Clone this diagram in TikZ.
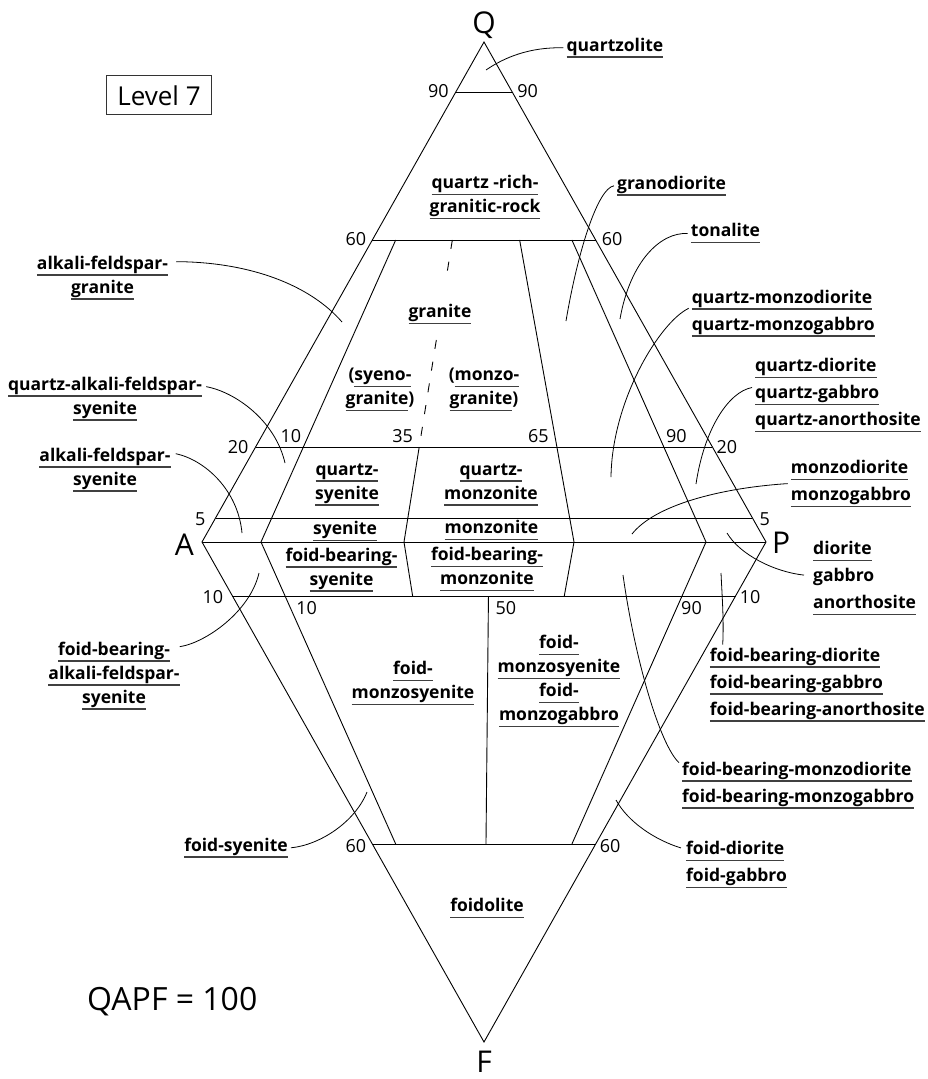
\documentclass[tikz,border=0pt]{standalone}
\usepackage{fontspec}
\setmainfont{Open Sans}
\usepackage{tikz}
\usetikzlibrary{calc}
\usetikzlibrary{positioning}
\tikzstyle{bline}=[line width=0.9pt]
\tikzstyle{lead}=[line width=0.8pt]
\tikzstyle{rock}=[font=\fontsize{17.5}{24}\selectfont\bfseries,align=center,inner sep=3pt]
\tikzstyle{rockr}=[rock,align=left,font=\fontsize{17.5}{27}\selectfont\bfseries]
\tikzstyle{num}=[font=\fontsize{18}{20}\selectfont,inner sep=0pt]
\tikzstyle{apex}=[font=\fontsize{30}{36}\selectfont,inner sep=0pt]
\newcommand{\undl}[1]{\setbox0=\hbox{#1}\rlap{\color{black!75}\rule[-6.5pt]{\wd0}{1.4pt}}\box0}
\begin{document}
\begin{tikzpicture}[x=1pt,y=1pt,yscale=-1]
\useasboundingbox (0,0) rectangle (928,1079);
\coordinate (Q) at (484,42);
\coordinate (A) at (202,542);
\coordinate (P) at (766,542);
\coordinate (F) at (484,1042);
\coordinate (b10) at (261,542);
\coordinate (b35) at (404,542);
\coordinate (b50) at (489,542);
\coordinate (b65) at (574,542);
\coordinate (b90) at (706,542);
% outline and fields
\draw[bline] (Q) -- (A) -- (F) -- (P) -- cycle;
\draw[bline] (A) -- (P);
\foreach \f/\n in {0.9/90,0.604/60,0.19/20,0.048/5}
  \draw[bline] ($(A)!\f!(Q)$) coordinate (h\n-a) -- ($(P)!\f!(Q)$) coordinate (h\n-p);
\foreach \f/\n in {0.108/10,0.604/60}
  \draw[bline] ($(A)!\f!(F)$) coordinate (g\n-a) -- ($(P)!\f!(F)$) coordinate (g\n-p);
\foreach \b in {b10,b90}
  \draw[bline] ($(Q)!0.396!(\b)$) -- (\b) -- ($(\b)!0.604!(F)$);
\draw[bline] ($(Q)!0.396!(b65)$) -- (b65) -- ($(b65)!0.108!(F)$);
\draw[bline] ($(Q)!0.81!(b35)$) -- (b35) -- ($(b35)!0.108!(F)$);
\draw[bline,dash pattern=on 9pt off 13pt] ($(Q)!0.396!(b35)$) -- ($(Q)!0.47!(b35)$)
  ($(Q)!0.596!(b35)$) -- ($(Q)!0.81!(b35)$);
\draw[bline] ($(b50)!0.108!(F)$) -- ($(b50)!0.604!(F)$);
% corners
\node[apex,anchor=base] (nQ) at ($(Q)+(0,-9)$) {Q};
\node[apex,anchor=base east] (nA) at ($(A)+(-8,13)$) {A};
\node[apex,anchor=base west] (nP) at ($(P)+(6,11)$) {P};
\node[apex,anchor=base] (nF) at ($(F)+(0,30)$) {F};
% percentages
\node[num,anchor=east] (n90l) at ($(h90-a)+(-7,-1)$) {90};
\node[num,anchor=west] (n90r) at ($(h90-p)+(5,-1)$) {90};
\node[num,anchor=east] (n60l) at ($(h60-a)+(-6,-1)$) {60};
\node[num,anchor=west] (n60r) at ($(h60-p)+(6,-1)$) {60};
\node[num,anchor=east] (n20l) at ($(h20-a)+(-7,0)$) {20};
\node[num,anchor=west] (n20r) at ($(h20-p)+(4,0)$) {20};
\node[num,anchor=east] (n5l) at ($(h5-a)+(-10,1)$) {5};
\node[num,anchor=west] (n5r) at ($(h5-p)+(7,1)$) {5};
\node[num,anchor=south east] (n10t) at ($(Q)!0.81!(b10)+(-2,-4)$) {10};
\node[num,anchor=south east] (n35) at ($(Q)!0.81!(b35)+(-6,-4)$) {35};
\node[num,anchor=south east] (n65) at ($(Q)!0.81!(b65)+(-8,-4)$) {65};
\node[num,anchor=south west] (n90t) at ($(Q)!0.81!(b90)+(2,-4)$) {90};
\node[num,anchor=east] (n10l) at ($(g10-a)+(-9,1)$) {10};
\node[num,anchor=west] (n10r) at ($(g10-p)+(4,1)$) {10};
\node[num,anchor=north west] (n10b) at ($(b10)!0.108!(F)+(11,5)$) {10};
\node[num,anchor=north west] (n50) at ($(b50)!0.108!(F)+(7,5)$) {50};
\node[num,anchor=north west] (n90b) at ($(b90)!0.108!(F)+(-1,5)$) {90};
\node[num,anchor=east] (n60bl) at ($(g60-a)+(-6,2)$) {60};
\node[num,anchor=west] (n60br) at ($(g60-p)+(4,2)$) {60};
% fields inside
\node[rock] (qzl) at (615,47.8) {\undl{quartzolite}};
\node[rock] (qrg) at (485,197.1) {\undl{quartz -rich-}\\\undl{granitic-rock}};
\node[rock] (gra) at (440,314.5) {\undl{granite}};
\node[rock] (syg) at (380,389.8) {(\undl{syeno-}\\\undl{granite})};
\node[rock] (mzg) at (484,389.8) {(\undl{monzo-}\\\undl{granite})};
\node[rock] (qsy) at (347,484.5) {\undl{quartz-}\\\undl{syenite}};
\node[rock] (qmz) at (491,484.8) {\undl{quartz-}\\\undl{monzonite}};
\node[rock] (sye) at (345,531.1) {\undl{syenite}};
\node[rock] (mzn) at (491.5,530.1) {\undl{monzonite}};
\node[rock] (fbs) at (341.5,569.8) {\undl{foid-bearing-}\\\undl{syenite}};
\node[rock] (fbm) at (487,569.5) {\undl{foid-bearing-}\\\undl{monzonite}};
\node[rock] (fms) at (413,683.1) {\undl{foid-}\\\undl{monzosyenite}};
\node[rock] (fmg) at (559,681.1) {\undl{foid-}\\\undl{monzosyenite}\\\undl{foid-}\\\undl{monzogabbro}};
\node[rock] (fdl) at (487,908.5) {\undl{foidolite}};
% left side
\node[rock] (afg) at (102.5,277.8) {\undl{alkali-feldspar-}\\\undl{granite}};
\node[rock] (qas) at (105,398.8) {\undl{quartz-alkali-feldspar-}\\\undl{syenite}};
\node[rock] (afs) at (105,469.8) {\undl{alkali-feldspar-}\\\undl{syenite}};
\node[rock] (fas) at (114,675.8) {\undl{foid-bearing-}\\\undl{alkali-feldspar-}\\\undl{syenite}};
\node[rock] (fsy) at (236,847.8) {\undl{foid-syenite}};
% right side
\node[rockr,anchor=west] (gdi) at (614,185.8) {\undl{granodiorite}};
\node[rockr,anchor=west] (ton) at (687.7,233.5) {\undl{tonalite}};
\node[rockr,anchor=west] (qmd) at (688.7,313.3) {\undl{quartz-monzodiorite}\\\undl{quartz-monzogabbro}};
\node[rockr,anchor=west] (qdi) at (752,395.5) {\undl{quartz-diorite}\\\undl{quartz-gabbro}\\\undl{quartz-anorthosite}};
\node[rockr,anchor=west] (mzd) at (787.7,483.6) {\undl{monzodiorite}\\\undl{monzogabbro}};
\node[rockr,anchor=west] (dio) at (810,578.1) {\undl{diorite}\\gabbro\\\undl{anorthosite}};
\node[rockr,anchor=west] (fbd) at (706.7,684.8) {\undl{foid-bearing-diorite}\\\undl{foid-bearing-gabbro}\\\undl{foid-bearing-anorthosite}};
\node[rockr,anchor=west] (fbmd) at (679,785.3) {\undl{foid-bearing-monzodiorite}\\\undl{foid-bearing-monzogabbro}};
\node[rockr,anchor=west] (fdi) at (683,864.6) {\undl{foid-diorite}\\\undl{foid-gabbro}};
% leader ends
\coordinate (qzl-x) at (486,70);
\coordinate (afg-x) at (342,322);
\coordinate (gdi-x) at (566,321);
\coordinate (ton-x) at (620,319);
\coordinate (qmd-x) at (611,477);
\coordinate (qdi-x) at (696,484);
\coordinate (mzd-x) at (632,534);
\coordinate (dio-x) at (727,533);
\coordinate (fbd-x) at (721,573);
\coordinate (fbmd-x) at (623,575);
\coordinate (fdi-x) at (616,800);
\coordinate (fsy-x) at (367,792);
\coordinate (fas-x) at (259,573);
\coordinate (afs-x) at (242,533);
\coordinate (qas-x) at (285,463);
\draw[lead] (qzl.west) .. controls (530,47) and (505,57) .. (qzl-x);
\draw[lead] ($(afg.north east)+(5,9)$) .. controls (250,262) and (310,285) .. (afg-x);
\draw[lead] (gdi.west) .. controls (598,188) and (578,250) .. (gdi-x);
\draw[lead] (ton.west) .. controls (660,232) and (630,262) .. (ton-x);
\draw[lead] ($(qmd.west)+(0,-5)$) .. controls (660,322) and (612,400) .. (qmd-x);
\draw[lead] ($(qdi.west)+(0,-8)$) .. controls (728,392) and (704,430) .. (qdi-x);
\draw[lead] (mzd.west) .. controls (720,488) and (655,505) .. (mzd-x);
\draw[lead] ($(dio.west)+(-6,-3)$) .. controls (775,572) and (740,555) .. (dio-x);
\draw[lead] ($(fbd.north west)+(16,0)$) .. controls (724,620) and (722,595) .. (fbd-x);
\draw[lead] ($(fbmd.north west)+(0,4)$) .. controls (660,745) and (635,660) .. (fbmd-x);
\draw[lead] ($(fdi.north west)+(-2,10)$) .. controls (655,840) and (628,822) .. (fdi-x);
\draw[lead] (fsy.east) .. controls (320,845) and (355,822) .. (fsy-x);
\draw[lead] ($(fas.north east)+(-3,8)$) .. controls (205,643) and (250,612) .. (fas-x);
\draw[lead] ($(afs.north east)+(2,9)$) .. controls (205,460) and (238,490) .. (afs-x);
\draw[lead] ($(qas.north east)+(1,13)$) .. controls (235,392) and (275,420) .. (qas-x);
% title and sum
\node[draw=black!80,line width=0.8pt,minimum width=105pt,minimum height=39pt,font=\fontsize{26}{30}\selectfont] (lvl) at (159,95.3) {Level 7};
\node[anchor=base west,font=\fontsize{32}{36}\selectfont,inner sep=0pt] (sum) at (87,1010) {QAPF = 100};
\end{tikzpicture}
\end{document}
